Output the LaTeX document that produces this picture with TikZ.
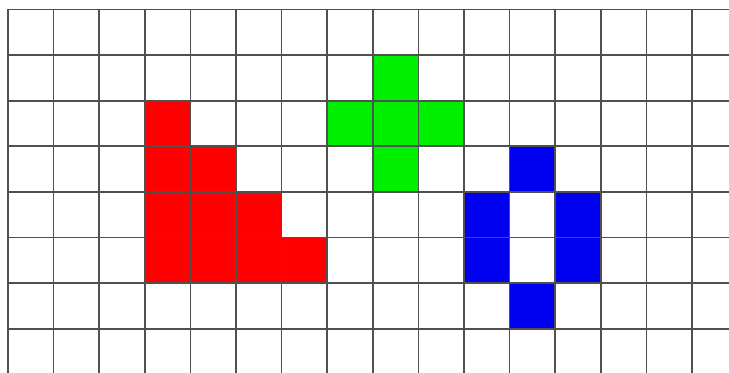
\documentclass[tikz,border=0pt]{standalone}
\usetikzlibrary{calc}
\definecolor{cellRed}{HTML}{FF0000}
\definecolor{cellGreen}{HTML}{00F000}
\definecolor{cellBlue}{HTML}{0000F0}
\definecolor{gridGrey}{HTML}{505050}
\tikzset{
  % one square of the board, placed by column and row (row 0 on top)
  gridline/.style = {gridGrey, line width=1.1pt},
  redcell/.style   = {fill=cellRed},
  greencell/.style = {fill=cellGreen},
  bluecell/.style  = {fill=cellBlue},
}
\newcommand{\paintcell}[3]{\fill[#1] (#2,-#3) rectangle ++(1,-1);}

\begin{document}
\begin{tikzpicture}[x=1cm,y=1cm]
  \useasboundingbox (-0.1754,0.208) rectangle (15.811,-7.971);
  \clip (-0.1754,0.208) rectangle (15.811,-7.971);
  % --- red staircase ------------------------------------------------------
  \foreach \c/\r in {3/2, 3/3,4/3, 3/4,4/4,5/4, 3/5,4/5,5/5,6/5}
    \paintcell{redcell}{\c}{\r}
  % --- green cross ----------------------------------------------------------
  \foreach \c/\r in {8/1, 7/2,8/2,9/2, 8/3}
    \paintcell{greencell}{\c}{\r}
  % --- blue ring ------------------------------------------------------------
  \foreach \c/\r in {11/3, 10/4,12/4, 10/5,12/5, 11/6}
    \paintcell{bluecell}{\c}{\r}
  % --- board lines ----------------------------------------------------------
  \foreach \c in {0,...,16} \draw[gridline] (\c,0) -- (\c,-9);
  \foreach \r in {0,...,8} \draw[gridline] (0,-\r) -- (17,-\r);
\end{tikzpicture}
\end{document}
